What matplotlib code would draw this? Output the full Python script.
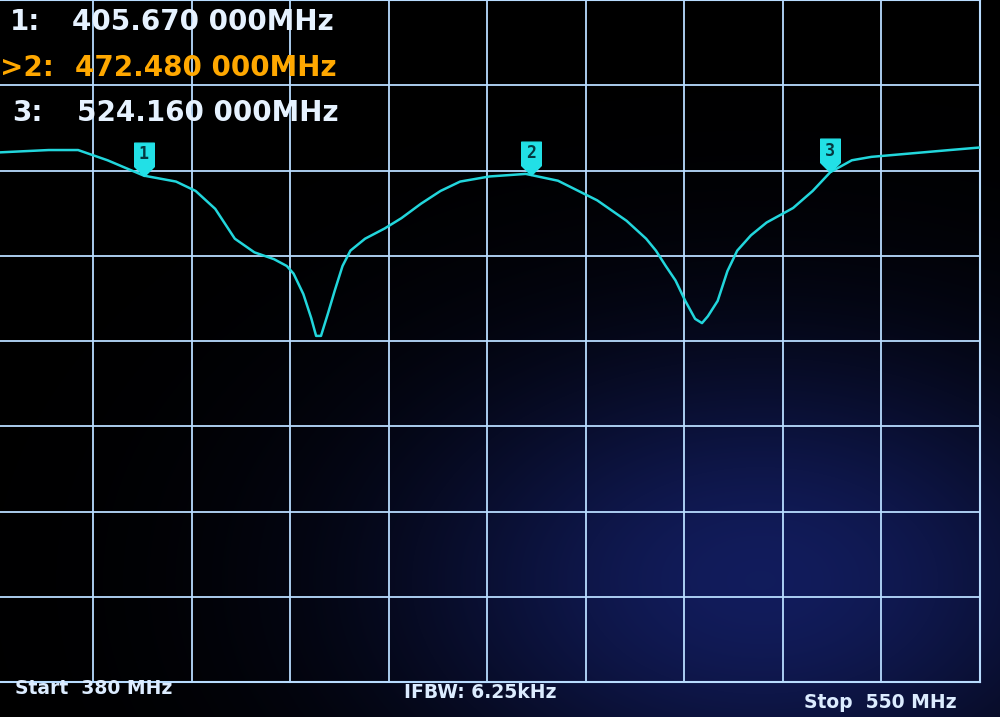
import numpy as np
import matplotlib.pyplot as plt
from matplotlib.path import Path

# trace (MHz, dB; 10 dB/div, top line = 0 dB)
freq_mhz = [380.0, 389.27, 394.34, 399.42, 405.67, 411.25, 414.63, 418.01, 421.39,
            424.77, 428.15, 430.35, 431.53, 433.22, 434.57, 435.42, 436.26, 437.45,
            438.63, 439.98, 441.34, 443.87, 447.25, 450.12, 453.51, 456.89, 460.27,
            465.34, 471.59, 477.17, 483.93, 489.00, 492.38, 494.07, 495.76, 497.45,
            499.14, 500.83, 502.02, 503.03, 504.72, 506.41, 508.10, 510.47, 513.17,
            517.74, 521.12, 524.16, 527.88, 531.26, 538.02, 544.78, 550.0]
level_db = [-17.9, -17.6, -17.6, -18.8, -20.6, -21.3, -22.4, -24.5, -28.0,
            -29.6, -30.4, -31.2, -32.1, -34.5, -37.3, -39.4, -39.4, -36.8,
            -34.1, -31.2, -29.4, -28.0, -26.8, -25.6, -23.9, -22.4, -21.3,
            -20.7, -20.4, -21.2, -23.5, -25.9, -28.0, -29.4, -31.2, -32.9,
            -35.3, -37.4, -37.9, -37.1, -35.3, -31.8, -29.4, -27.6, -26.1,
            -24.4, -22.4, -20.2, -18.8, -18.4, -18.0, -17.6, -17.3]

marker_ids = ['1', '2', '3']
marker_freqs = [405.67, 472.48, 524.16]
marker_labels = ['1:', '>2:', '3:']
marker_texts = ['405.670 000MHz', '472.480 000MHz', '524.160 000MHz']

start_mhz = 380
stop_mhz = 550
ifbw_text = 'IFBW: 6.25kHz'

W, H = 1000, 717
fig = plt.figure(figsize=(W / 100, H / 100), dpi=100)
fig.patch.set_facecolor('black')

# dark blue glare on the lower right of the screen photo
bg = fig.add_axes([0, 0, 1, 1], zorder=0)
yy, xx = np.mgrid[0:H, 0:W]
glow = np.exp(-(((xx - 760) / 360.0) ** 2 + ((yy - 580) / 230.0) ** 2))
img = np.zeros((H, W, 3))
img[..., 0] = 0.07 * glow
img[..., 1] = 0.11 * glow
img[..., 2] = 0.36 * glow
bg.imshow(img, aspect='auto', extent=(0, W, H, 0))
bg.set_axis_off()

ax = fig.add_axes([-0.005, 1 - 682 / H, 0.985, 682 / H], zorder=1)
ax.set_facecolor('none')
ax.set_xlim(start_mhz, stop_mhz)
ax.set_ylim(-80, 0)
ax.set_xticks(np.linspace(start_mhz, stop_mhz, 11))
ax.set_yticks(np.arange(-80, 1, 10))
ax.tick_params(length=0, labelbottom=False, labelleft=False)
ax.grid(True, color='#b8dcff', lw=1.3)
for s in ax.spines.values():
    s.set_color('#b8dcff')
    s.set_linewidth(1.5)

ax.plot(freq_mhz, level_db, color='#22d6dc', lw=1.8, zorder=3)

# marker flags: cyan pentagon with the tip on the trace
flag = Path([(-1, 3.4), (1, 3.4), (1, 1.0), (0, 0), (-1, 1.0), (-1, 3.4)],
            [Path.MOVETO, Path.LINETO, Path.LINETO, Path.LINETO, Path.LINETO, Path.CLOSEPOLY])
marker_levels = np.interp(marker_freqs, freq_mhz, level_db)
for mid, f, lv in zip(marker_ids, marker_freqs, marker_levels):
    ax.plot(f, lv, marker=flag, markersize=48, color='#22e0e6', zorder=4, clip_on=False)
    ax.annotate(mid, (f, lv), xytext=(0, 15.5), textcoords='offset points',
                ha='center', va='center', fontsize=12, fontweight='bold', color='#053840',
                family='DejaVu Sans Mono', zorder=5)

# marker readout at the top left
row_y = [22, 68, 113]
label_x = [10, 0, 12]
value_x = [72, 75, 77]
row_colors = ['#e6f2ff', '#ffa800', '#e6f2ff']
for lab, txt, y, lx, vx, c in zip(marker_labels, marker_texts, row_y, label_x, value_x, row_colors):
    fig.text(lx / W, 1 - y / H, lab, color=c, fontsize=20, fontweight='bold',
             va='center', ha='left', zorder=6)
    fig.text(vx / W, 1 - y / H, txt, color=c, fontsize=20, fontweight='bold',
             va='center', ha='left', zorder=6)

# footer
foot = dict(color='#dcecff', fontsize=13.5, fontweight='bold', va='center', zorder=6)
fig.text(15 / W, 1 - 688 / H, f'Start  {start_mhz} MHz', ha='left', **foot)
fig.text(480 / W, 1 - 693 / H, ifbw_text, ha='center', **foot)
fig.text(957 / W, 1 - 703 / H, f'Stop  {stop_mhz} MHz', ha='right', **foot)

fig.savefig('out.png', dpi=100, facecolor='black')
